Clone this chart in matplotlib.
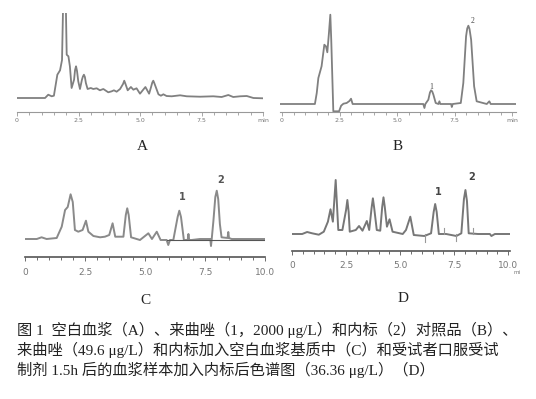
import matplotlib
matplotlib.use("Agg")
import matplotlib.pyplot as plt
from matplotlib.ticker import MultipleLocator, FixedLocator

# chromatogram A: blank plasma (time in min, signal in arbitrary units)
a_time = [0, 1.14, 1.27, 1.41, 1.5, 1.64, 1.75, 1.83, 1.88, 1.98, 2.02, 2.09, 2.15, 2.22,
          2.32, 2.36, 2.4, 2.44, 2.49, 2.56, 2.64, 2.68, 2.72, 2.76, 2.8, 2.87, 3.0, 3.1,
          3.24, 3.37, 3.51, 3.71, 3.85, 3.94, 4.05, 4.19, 4.31, 4.36, 4.41, 4.5, 4.63,
          4.73, 4.86, 5.0, 5.11, 5.22, 5.37, 5.45, 5.5, 5.54, 5.58, 5.64, 5.75, 5.85,
          5.95, 6.08, 6.29, 6.63, 6.9, 7.44, 7.98, 8.32, 8.59, 8.79, 9.07, 9.34, 9.61, 10.0]
a_signal = [0, 0, 3.3, 1.7, 2.3, 23.3, 27.7, 38, 100, 100, 43.3, 41.7, 31.7, 10,
            18.3, 28, 31.7, 27, 16.7, 9, 18.3, 21.5, 23.3, 21, 15, 9, 10, 9,
            9.7, 7.7, 9, 5.7, 6.7, 7.7, 6.3, 9, 14, 17.3, 14, 7.7, 11,
            8.3, 9.7, 4.3, 7.7, 11, 4.3, 11, 15.5, 17.3, 15, 11, 3.7, 2.3,
            3.7, 2, 1.7, 2.7, 1.7, 1.3, 1.7, 1, 3, 1, 1.7, 2, 0, -0.3]

# chromatogram B: letrozole (1) and internal standard (2) reference
b_time = [-0.12, 1.43, 1.51, 1.58, 1.72, 1.84, 1.91, 1.97, 2.04, 2.1, 2.14, 2.23, 2.48,
          2.57, 2.67, 2.81, 2.93, 3.0, 3.07, 6.14, 6.19, 6.23, 6.36, 6.43, 6.48, 6.53,
          6.58, 6.68, 6.8, 6.84, 6.88, 7.35, 7.38, 7.42, 7.77, 7.88, 8.0, 8.05, 8.1,
          8.15, 8.22, 8.35, 8.46, 8.9, 9.01, 9.07, 10.16]
b_signal = [0, 0, 11, 26, 37.7, 59.3, 57.7, 51.7, 71, 89.3, 64.3, -7.3, -7.3,
            -1.7, 0.3, 1, 3, 5.3, 0, 0, -4, 0, 4.3, 11.5, 13.7, 12.5,
            9.3, 1, 0, 2.7, 0, 0, -3, 0, 1, 21, 67.7, 75.5, 78.3,
            75, 64.3, 17.7, 2.7, 0, 2.7, 0, 0]

# chromatogram C: spiked blank plasma
c_time = [0, 0.49, 0.69, 0.9, 1.32, 1.53, 1.67, 1.78, 1.9, 1.99, 2.08, 2.22, 2.4, 2.54,
          2.64, 2.85, 3.13, 3.33, 3.51, 3.65, 3.76, 4.1, 4.2, 4.26, 4.32, 4.42, 4.79,
          5.14, 5.29, 5.49, 5.65, 5.9, 5.97, 6.04, 6.18, 6.36, 6.43, 6.5, 6.62, 6.78,
          6.81, 6.84, 6.94, 7.29, 7.72, 7.75, 7.78, 7.85, 7.93, 7.99, 8.05, 8.12, 8.19,
          8.44, 8.47, 8.5, 8.61, 10.0]
c_signal = [0, 0, 1.7, 0, 1, 12.3, 29, 32, 44.7, 37, 9, 7.3, 9, 18.3,
            7.3, 3, 1.7, 2.3, 4, 15.7, 2.3, 2.3, 24, 30.7, 24, 1.7, -1,
            5.7, 0, 7.3, -1, -1, -6, -1, -1, 22, 28.3, 22, -1, -1,
            5, -1, -1, 0, 0, -7, 0, 18, 42, 48.3, 40, 15, 1.7,
            1, 7, 1, 0, 0]

# chromatogram D: subject plasma 1.5 h after dosing
d_time = [0, 0.47, 0.7, 0.93, 1.24, 1.47, 1.66, 1.78, 1.89, 2.02, 2.14, 2.33, 2.5, 2.56,
          2.62, 2.67, 2.95, 3.1, 3.26, 3.46, 3.57, 3.68, 3.74, 3.8, 3.92, 4.08, 4.17,
          4.23, 4.29, 4.39, 4.51, 4.65, 5.12, 5.27, 5.47, 5.63, 6.12, 6.43, 6.55, 6.62,
          6.69, 6.79, 7.13, 7.6, 7.83, 7.95, 8.02, 8.09, 8.17, 8.6, 9.15, 9.22, 9.38, 10.05]
d_signal = [0, 0, 2, 0.7, -0.7, 2.3, 12.3, 24.7, 12.3, 54, 4, 4, 24, 34,
            22, 2.3, 4, 8, 3.3, 13, 4, 26, 35.7, 26, 4, 3.3, 27,
            36.7, 27, 7.3, 14.7, 2.3, 0, 4, 17.3, -1, -2, 0.7, 22, 30,
            22, 0, 0, -2, 0.7, 35, 44, 33, 0.7, 0, 0, -2, 0, 0]
# integration marks on D (time, mark end)
d_marks = [(6.16, -8), (7.02, 6), (7.6, -7), (8.37, 6)]

tick_pos = [0, 2.5, 5.0, 7.5, 10.0]
ab_labels = ["0", "2.5", "5.0", "7.5", "min"]
cd_labels = ["0", "2.5", "5.0", "7.5", "10.0"]

W, H = 536, 399
fig = plt.figure(figsize=(W / 100, H / 100), dpi=100)


def px_axes(left, top, right, bottom):
    return fig.add_axes([left / W, 1 - bottom / H, (right - left) / W, (bottom - top) / H])


def style(ax, labels, color, lw, fs, pad):
    for s in ["top", "right", "left"]:
        ax.spines[s].set_visible(False)
    ax.spines["bottom"].set_color(color)
    ax.spines["bottom"].set_linewidth(lw)
    ax.set_yticks([])
    ax.xaxis.set_major_locator(FixedLocator(tick_pos))
    ax.set_xticklabels(labels)
    ax.xaxis.set_minor_locator(MultipleLocator(0.5))
    ax.tick_params(axis="x", which="both", direction="out", colors=color,
                   labelcolor="#777777", labelsize=fs, pad=pad, width=0.6)
    ax.tick_params(axis="x", which="major", length=3)
    ax.tick_params(axis="x", which="minor", length=2)
    ax.patch.set_alpha(0)


# panel A
ax = px_axes(17, 13, 263, 112)
ax.plot(a_time, a_signal, color="#808080", lw=1.3)
ax.set_xlim(0, 10)
ax.set_ylim(-14, 85)
style(ax, ab_labels, "#999999", 0.8, 4.5, 1.5)
fig.text(142 / W, 1 - 147 / H, "A", ha="center", va="center", fontsize=11,
         family="Liberation Serif", color="#222222")

# panel B
ax = px_axes(280, 10, 516, 112)
ax.plot(b_time, b_signal, color="#808080", lw=1.3)
ax.set_xlim(-0.087, 10.17)
ax.set_ylim(-8, 94)
style(ax, ab_labels, "#999999", 0.8, 4.5, 1.5)
ax.text(6.48, 17, "1", ha="center", va="center", fontsize=5.5, family="Liberation Serif", color="#444444")
ax.text(8.29, 83, "2", ha="center", va="center", fontsize=5.5, family="Liberation Serif", color="#444444")
fig.text(398 / W, 1 - 147 / H, "B", ha="center", va="center", fontsize=11,
         family="Liberation Serif", color="#222222")

# panel C
ax = px_axes(25, 175, 265, 257)
ax.plot(c_time, c_signal, color="#8a8a8a", lw=1.4)
ax.plot([5.9, 10.0], [-0.5, -0.5], color="#555555", lw=0.8)
ax.set_xlim(0, 10)
ax.set_ylim(-18, 64)
style(ax, cd_labels, "#555555", 1.2, 6.5, 5)
ax.text(6.55, 42, "1", ha="center", va="center", fontsize=7, fontweight="bold", color="#555555")
ax.text(8.15, 59, "2", ha="center", va="center", fontsize=7, fontweight="bold", color="#555555")
fig.text(145 / W, 1 - 300 / H, "C", ha="center", va="center", fontsize=11,
         family="Liberation Serif", color="#222222")

# panel D
ax = px_axes(292, 170, 510, 251)
ax.plot(d_time, d_signal, color="#777777", lw=1.4)
for t, m in d_marks:
    ax.plot([t, t], [0, m], color="#999999", lw=0.8)
ax.set_xlim(0, 10.08)
ax.set_ylim(-17, 64)
style(ax, cd_labels, "#555555", 1.2, 6.5, 4)
ax.text(6.78, 42, "1", ha="center", va="center", fontsize=7, fontweight="bold", color="#444444")
ax.text(8.29, 57, "2", ha="center", va="center", fontsize=7, fontweight="bold", color="#444444")
fig.text(517 / W, 1 - 273 / H, "mi", ha="center", va="center", fontsize=4, color="#777777")
fig.text(403 / W, 1 - 298 / H, "D", ha="center", va="center", fontsize=11,
         family="Liberation Serif", color="#222222")

# caption
caption = [
    "图 1  空白血浆（A）、来曲唑（1，2000 μg/L）和内标（2）对照品（B）、",
    "来曲唑（49.6 μg/L）和内标加入空白血浆基质中（C）和受试者口服受试",
    "制剂 1.5h 后的血浆样本加入内标后色谱图（36.36 μg/L）（D）",
]
for i, line in enumerate(caption):
    fig.text(17 / W, 1 - (330 + 20 * i) / H, line, ha="left", va="center", fontsize=11,
             family=["Liberation Serif", "Noto Sans CJK SC"], color="#222222")

fig.savefig("out.png", dpi=100)
